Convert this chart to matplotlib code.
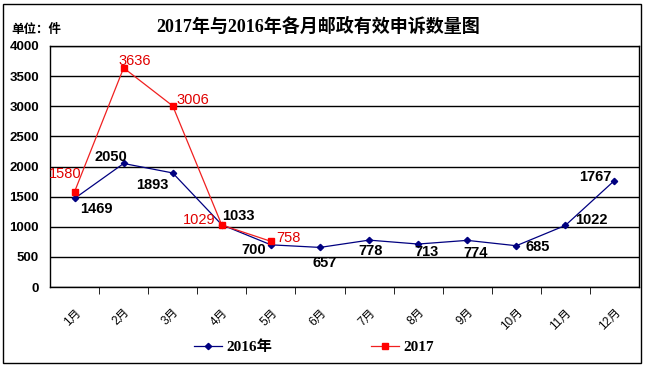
import matplotlib
matplotlib.use("Agg")
import matplotlib.pyplot as plt
from matplotlib.patches import Rectangle
from matplotlib.lines import Line2D

months = ["1月", "2月", "3月", "4月", "5月", "6月", "7月", "8月", "9月", "10月", "11月", "12月"]
v2016 = [1469, 2050, 1893, 1033, 700, 657, 778, 713, 774, 685, 1022, 1767]
v2017 = [1580, 3636, 3006, 1029, 758]
# label offsets in pixels (dx, dy)
off2016 = [(22, -11), (-13, 6), (-20, -12), (17, 9), (-17, -5), (5, -16),
           (2, -11), (8, -8), (8, -13), (21, -1), (26, 5), (-19, 4)]
off2017 = [(-9, 18), (11, 7), (20, 6), (-23, 5), (18, 3)]

plt.rcParams['font.family'] = ['Liberation Sans', 'Noto Sans CJK SC', 'DejaVu Sans']

W, H = 645, 367
fig = plt.figure(figsize=(W / 100, H / 100), dpi=100)
ax = fig.add_axes([50 / W, 1 - 287 / H, (639 - 50) / W, (287 - 46) / H])

navy = '#000080'
red = '#FF0000'
x16 = list(range(len(v2016)))
x17 = list(range(len(v2017)))
ax.plot(x16, v2016, color=navy, lw=0.9, marker='D', ms=3.2, mfc=navy, mec=navy, zorder=3)
ax.plot(x17, v2017, color='#F02020', lw=0.9, marker='s', ms=5, mfc=red, mec=red, zorder=4)

for x, v, (dx, dy) in zip(x16, v2016, off2016):
    ax.annotate(str(v), (x, v), xytext=(dx, dy), textcoords='offset pixels',
                ha='center', va='center', fontsize=10.5, fontweight='bold',
                color='black', zorder=5)
for x, v, (dx, dy) in zip(x17, v2017, off2017):
    t = ax.annotate(str(v), (x, v), xytext=(dx, dy), textcoords='offset pixels',
                    ha='center', va='center', fontsize=10.5, color='#E00000',
                    family=['Liberation Sans'], zorder=5)
    t.set_fontstretch('expanded')

ax.set_xlim(-0.5, 11.5)
ax.set_ylim(0, 4000)
ax.set_yticks(range(0, 4001, 500))
ax.yaxis.grid(True, color='black', lw=1)
ax.set_axisbelow(True)
ax.tick_params(axis='y', length=0, pad=8, labelsize=9.5)
for lab in ax.get_yticklabels():
    lab.set_fontweight('bold')

ax.set_xticks(x16)
ax.set_xticklabels(months, rotation=45, ha='right', va='top', rotation_mode='anchor',
                   fontsize=8.5)
ax.tick_params(axis='x', which='major', length=0, pad=14)
ax.set_xticks([i - 0.5 for i in range(1, 12)], minor=True)
ax.tick_params(axis='x', which='minor', length=5, direction='out', color='black')

for s in ax.spines.values():
    s.set_color('black')
    s.set_linewidth(1)

fig.text(318 / W, 1 - 27 / H, "2017年与2016年各月邮政有效申诉数量图", ha='center', va='center',
         fontsize=13, fontweight='bold', family=['Liberation Serif', 'Noto Sans CJK SC'])
fig.text(11 / W, 1 - 30 / H, "单位：件", ha='left', va='center', fontsize=9,
         fontweight='bold', family=['Noto Sans CJK SC'])

handles = [Line2D([], [], color=navy, lw=0.9, marker='D', ms=3.2),
           Line2D([], [], color='#F02020', lw=0.9, marker='s', ms=5, mfc=red, mec=red)]
fig.legend(handles, ["2016年", "2017"], loc='center', bbox_to_anchor=(314 / W, 1 - 347 / H),
           ncol=2, frameon=False, handlelength=1.8, columnspacing=6.5, handletextpad=0.3,
           prop={'family': ['Liberation Serif', 'Noto Sans CJK SC'], 'weight': 'bold', 'size': 11})

fig.patches.append(Rectangle((3 / W, 4 / H), (641 - 3) / W, (363 - 4) / H, transform=fig.transFigure,
                             fill=False, edgecolor='black', lw=1))

fig.savefig("out.png", dpi=100)
